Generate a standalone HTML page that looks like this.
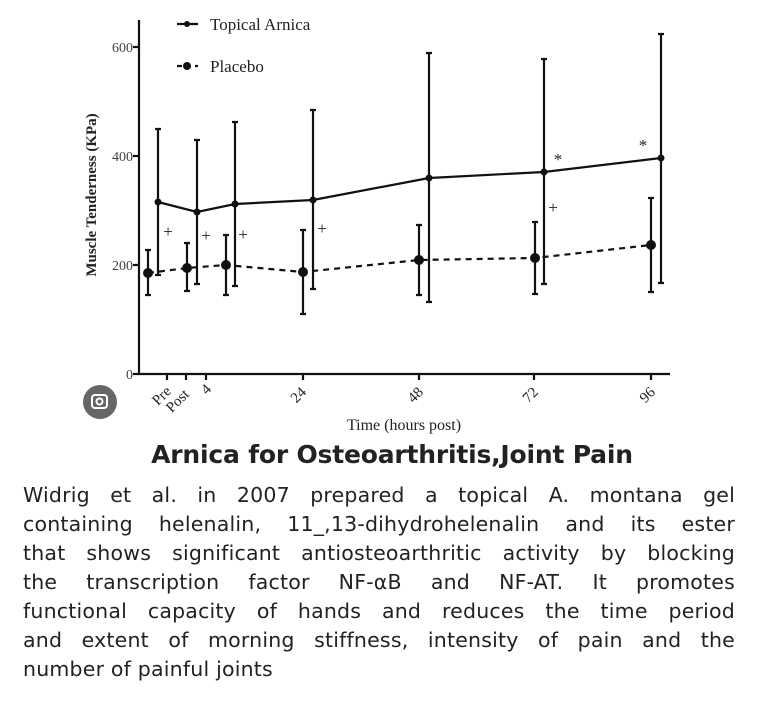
<!DOCTYPE html>
<html><head><meta charset="utf-8"><style>
body{margin:0;background:#fff;width:762px;height:706px;overflow:hidden;position:relative;font-family:"Liberation Sans",sans-serif}
.t{position:absolute;left:0;width:784px;text-align:center;top:440px;font-size:25px;font-weight:bold;color:#222;font-family:"DejaVu Sans","Liberation Sans",sans-serif;letter-spacing:-0.2px}
.l{position:absolute;left:23px;width:712px;font-size:20.5px;color:#222;text-align:justify;text-align-last:justify;white-space:nowrap;font-family:"DejaVu Sans",sans-serif;letter-spacing:0.2px}
</style></head><body>
<svg width="762" height="440" style="position:absolute;left:0;top:0" font-family="Liberation Serif,serif">
<g stroke="#111" stroke-width="2.2" fill="none">
<line x1="139" y1="20" x2="139" y2="375"/><line x1="138" y1="374" x2="670" y2="374"/>
<line x1="133" y1="47" x2="139" y2="47"/><line x1="133" y1="156" x2="139" y2="156"/><line x1="133" y1="265" x2="139" y2="265"/><line x1="133" y1="374" x2="139" y2="374"/>
<line x1="167" y1="374" x2="167" y2="380"/><line x1="186" y1="374" x2="186" y2="380"/><line x1="206" y1="374" x2="206" y2="380"/><line x1="303" y1="374" x2="303" y2="380"/><line x1="419" y1="374" x2="419" y2="380"/><line x1="534" y1="374" x2="534" y2="380"/><line x1="651" y1="374" x2="651" y2="380"/>
<polyline points="158,202 197,212 235,204 313,200 429,178 544,172 661,158"/>
<polyline stroke-dasharray="6,5" points="148,273 187,268 226,265 303,272 419,260 535,258 651,245"/>
<path d="M158,129V275M155,129h6M155,275h6 M197,140V284M194,140h6M194,284h6 M235,122V286M232,122h6M232,286h6 M313,110V289M310,110h6M310,289h6 M429,53V302M426,53h6M426,302h6 M544,59V284M541,59h6M541,284h6 M661,34V283M658,34h6M658,283h6"/>
<path d="M148,250V295M145,250h6M145,295h6 M187,243V291M184,243h6M184,291h6 M226,235V295M223,235h6M223,295h6 M303,230V314M300,230h6M300,314h6 M419,225V295M416,225h6M416,295h6 M535,222V294M532,222h6M532,294h6 M651,198V292M648,198h6M648,292h6"/>
<line x1="177" y1="24" x2="198" y2="24"/><line x1="177" y1="66" x2="198" y2="66" stroke-dasharray="5,4"/>
</g>
<g fill="#111">
<circle cx="158" cy="202" r="3.5"/><circle cx="197" cy="212" r="3.5"/><circle cx="235" cy="204" r="3.5"/><circle cx="313" cy="200" r="3.5"/><circle cx="429" cy="178" r="3.5"/><circle cx="544" cy="172" r="3.5"/><circle cx="661" cy="158" r="3.5"/>
<circle cx="148" cy="273" r="5"/><circle cx="187" cy="268" r="5"/><circle cx="226" cy="265" r="5"/><circle cx="303" cy="272" r="5"/><circle cx="419" cy="260" r="5"/><circle cx="535" cy="258" r="5"/><circle cx="651" cy="245" r="5"/>
<circle cx="187" cy="24" r="3"/><circle cx="187" cy="66" r="4"/>
</g>
<g font-size="17" fill="#222" text-anchor="middle">
<text x="168" y="237">+</text><text x="206" y="241">+</text><text x="243" y="240">+</text><text x="322" y="234">+</text><text x="553" y="213">+</text>
<text x="558" y="165">*</text><text x="643" y="151">*</text>
</g>
<g font-size="17" fill="#222">
<text x="210" y="30">Topical Arnica</text><text x="210" y="72">Placebo</text>
</g>
<g font-size="14" fill="#444" text-anchor="end">
<text x="133" y="52">600</text><text x="133" y="161">400</text><text x="133" y="270">200</text><text x="133" y="379">0</text>
</g>
<text transform="translate(96,195) rotate(-90)" text-anchor="middle" font-size="15" font-weight="bold" fill="#222">Muscle Tenderness (KPa)</text>
<g font-size="15" fill="#222" text-anchor="end">
<text transform="translate(172,392) rotate(-45)">Pre</text>
<text transform="translate(190,395) rotate(-45)">Post</text>
<text transform="translate(212,390) rotate(-45)">4</text>
<text transform="translate(307,393) rotate(-45)">24</text>
<text transform="translate(424,393) rotate(-45)">48</text>
<text transform="translate(539,393) rotate(-45)">72</text>
<text transform="translate(656,393) rotate(-45)">96</text>
</g>
<text x="404" y="430" text-anchor="middle" font-size="16" fill="#222">Time (hours post)</text>
<circle cx="100" cy="402" r="17" fill="#666"/>
<rect x="92" y="395" width="15" height="13" rx="3" fill="none" stroke="#fff" stroke-width="2"/>
<circle cx="99.5" cy="401.5" r="3" fill="none" stroke="#fff" stroke-width="2"/>
</svg>
<div class="t">Arnica for Osteoarthritis,Joint Pain</div>
<div class="l" style="top:483px">Widrig et al. in 2007 prepared a topical A. montana gel</div>
<div class="l" style="top:512px">containing helenalin, 11_,13-dihydrohelenalin and its ester</div>
<div class="l" style="top:541px">that shows significant antiosteoarthritic activity by blocking</div>
<div class="l" style="top:570px">the transcription factor NF-αB and NF-AT. It promotes</div>
<div class="l" style="top:599px">functional capacity of hands and reduces the time period</div>
<div class="l" style="top:628px">and extent of morning stiffness, intensity of pain and the</div>
<div class="l" style="top:657px;text-align-last:left;width:auto">number of painful joints</div>
</body></html>
